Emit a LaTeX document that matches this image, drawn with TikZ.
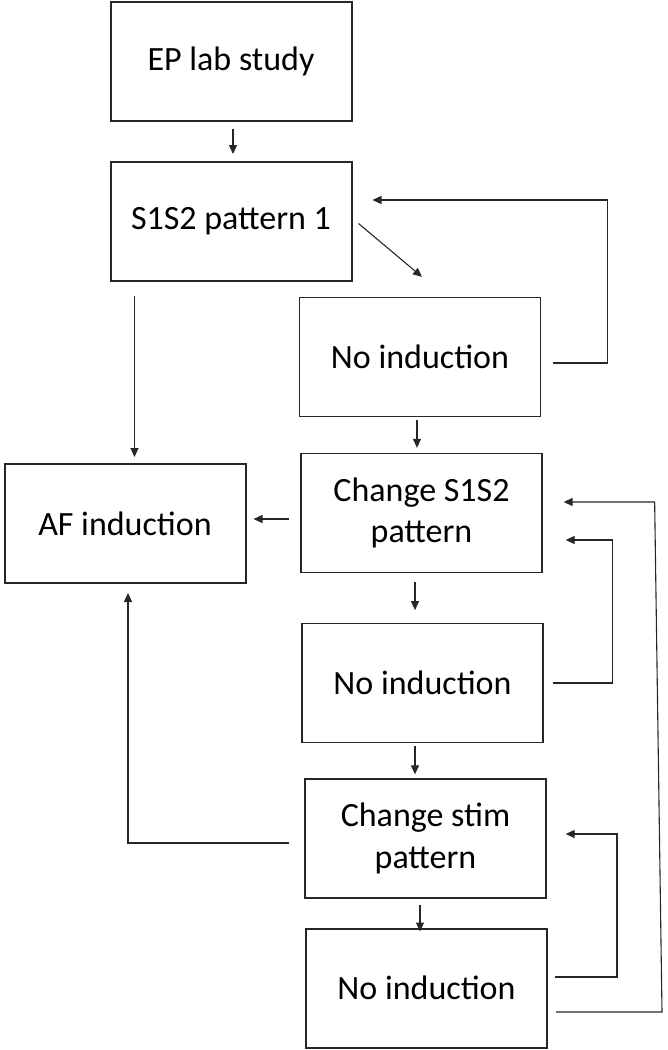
\documentclass[tikz,border=0pt]{standalone}
\usepackage{fontspec}
\setmainfont{Carlito}
\usetikzlibrary{arrows.meta,calc}
\begin{document}
\begin{tikzpicture}[x=1pt,y=-1pt,
  box/.style={draw=black!85,line width=1.3pt,rectangle,inner sep=0pt,
    minimum width=241pt,minimum height=119pt,align=center,
    font=\fontsize{34}{41.5}\selectfont},
  heavy/.style={line width=2pt},
  arr/.style={draw=black!85,line width=1.1pt,-{Triangle[length=9pt,width=8pt]}},
  ln/.style={draw=black!85,line width=1.1pt}]
\useasboundingbox (0,0) rectangle (667,1050);
\node[box,heavy] (ep) at (231,61) {EP lab study};
\node[box,heavy] (s1s2) at (231,221.5) {S1S2 pattern 1};
\node[box] (ni1) at (420,357) {No induction};
\node[box,heavy] (af) at (125,523.5) {AF induction};
\node[box] (cs) at (421.5,513) {Change S1S2\\pattern};
\node[box] (ni2) at (422.5,683) {No induction};
\node[box] (cst) at (425.5,838.5) {Change stim\\pattern};
\node[box,heavy] (ni3) at (426.5,988) {No induction};
% main flow
\draw[arr,shorten <=7pt,shorten >=7pt] ($(ep.south)+(2,0)$) -- ($(s1s2.north)+(2,0)$);
\draw[arr] ($(s1s2.east)+(6,2)$) -- ($(ni1.north)+(2,-20)$);
\draw[arr] ($(s1s2.south west)+(25,14)$) -- ($(af.north west)+(131,-6)$);
\draw[arr] ($(ni1.east)+(12,6)$) -- ++(54,0) |- ($(s1s2.east)+(20,-21.5)$);
\draw[arr] ($(ni1.south)+(-3,3)$) -- ($(cs.north)+(-4.5,-5)$);
\draw[arr] ($(cs.west)+(-11,6)$) -- ($(af.east)+(7,-4.5)$);
\draw[arr] ($(cs.south)+(-6.5,9)$) -- ($(cs.south)+(-6.5,37)$) coordinate (x1);
\draw[arr] ($(ni2.east)+(9,0)$) -- ++(60,0) |- ($(cs.east)+(23,27)$);
\draw[arr] ($(ni2.south)+(-7.5,3)$) -- ($(cst.north)+(-10.5,-4)$);
\draw[arr] ($(cst.west)+(-15,4.5)$) -| ($(af.south)+(3,9)$);
\draw[arr] ($(cst.south)+(-5.5,6)$) -- ($(ni3.north)+(-6.5,4)$);
\draw[arr] ($(ni3.east)+(7,-11)$) -- ++(62,0) |- ($(cst.east)+(19,-4.5)$);
\draw[arr] ($(ni3.east)+(8,24)$) -- ++(106,0) -- ($(cs.east)+(112,-11)$) -- ($(cs.east)+(21,-11)$);
\end{tikzpicture}
\end{document}
